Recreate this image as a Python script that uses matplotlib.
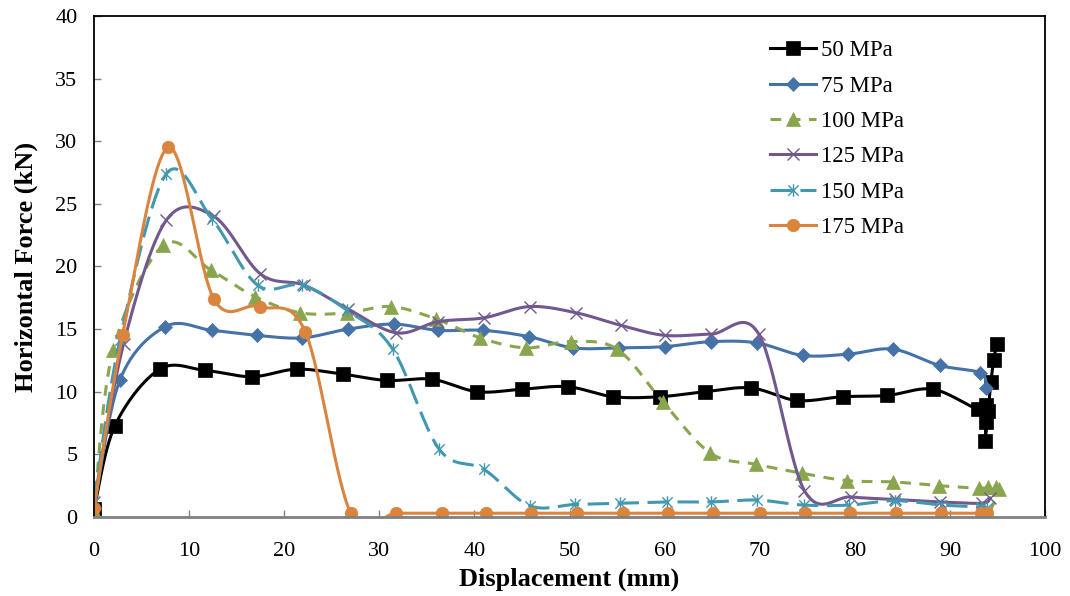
import numpy as np
import matplotlib
matplotlib.use('Agg')
import matplotlib.pyplot as plt
from matplotlib.path import Path
from matplotlib.lines import Line2D

plt.rcParams['font.family'] = ['Liberation Serif', 'DejaVu Serif']

# Data (displacement mm, force kN)
labels = ['50 MPa', '75 MPa', '100 MPa', '125 MPa', '150 MPa', '175 MPa']

x50 = [0, 2.2, 6.9, 11.7, 16.6, 21.3, 26.2, 30.8, 35.5, 40.3, 45.0, 49.8, 54.6, 59.5,
       64.2, 69.1, 73.9, 78.7, 83.4, 88.2, 92.9, 93.8, 93.8, 93.7, 94.0, 94.3, 94.6, 94.9]
y50 = [0.6, 7.3, 11.8, 11.7, 11.2, 11.8, 11.4, 10.9, 11.0, 10.0, 10.2, 10.4, 9.6, 9.6,
       10.0, 10.3, 9.3, 9.6, 9.7, 10.2, 8.6, 8.9, 7.6, 6.1, 8.5, 10.8, 12.5, 13.8]

x75 = [0, 2.7, 7.5, 12.4, 17.1, 21.9, 26.7, 31.5, 36.2, 40.9, 45.7, 50.4, 55.2, 60.0,
       64.9, 69.7, 74.5, 79.3, 84.0, 88.9, 93.2, 93.8]
y75 = [0.7, 10.9, 15.2, 14.9, 14.5, 14.3, 15.0, 15.4, 14.9, 14.9, 14.4, 13.5, 13.5, 13.6,
       14.0, 13.9, 12.9, 13.0, 13.4, 12.1, 11.5, 10.3]

x100 = [0, 2.0, 7.3, 12.3, 16.9, 21.7, 26.6, 31.2, 36.0, 40.6, 45.4, 50.1, 55.0, 59.8,
        64.8, 69.6, 74.4, 79.2, 84.0, 88.8, 93.1, 94.0, 94.8, 95.2, 94.0]
y100 = [0.5, 13.3, 21.7, 19.7, 17.6, 16.3, 16.3, 16.8, 15.8, 14.3, 13.5, 14.0, 13.4, 9.2,
        5.1, 4.2, 3.5, 2.9, 2.8, 2.5, 2.3, 2.4, 2.4, 2.2, 0.1]

x125 = [0, 3.1, 7.6, 12.6, 17.5, 22.1, 26.7, 31.8, 36.2, 41.0, 45.8, 50.7, 55.4, 60.0,
        64.9, 69.9, 74.7, 79.6, 84.2, 89.0, 93.4, 94.2]
y125 = [1.2, 13.8, 23.7, 24.0, 19.4, 18.5, 16.6, 14.7, 15.6, 15.9, 16.8, 16.3, 15.3, 14.5,
        14.6, 14.6, 2.1, 1.6, 1.4, 1.2, 1.1, 1.5]

x150 = [0, 2.7, 7.6, 12.4, 17.2, 21.9, 26.6, 31.4, 36.3, 41.0, 45.8, 50.6, 55.3, 60.2,
        64.9, 69.7, 74.6, 79.4, 84.2, 89.1, 93.3, 93.9]
y150 = [1.2, 14.1, 27.4, 23.8, 18.5, 18.5, 16.5, 13.4, 5.4, 3.8, 0.9, 1.0, 1.1, 1.2,
        1.2, 1.35, 0.95, 0.95, 1.3, 0.95, 0.8, 0.7]

x175 = [0, 3.0, 7.8, 12.6, 17.4, 22.2, 27.0, 31.8, 36.6, 41.2, 45.9, 50.8, 55.6, 60.4,
        65.1, 70.0, 74.8, 79.5, 84.3, 89.1, 93.3, 93.9]
y175 = [0.7, 14.5, 29.5, 17.4, 16.8, 14.8, 0.3, 0.3, 0.3, 0.3, 0.3, 0.3, 0.3, 0.3,
        0.3, 0.3, 0.3, 0.3, 0.3, 0.3, 0.3, 0.3]

series_x = [x50, x75, x100, x125, x150, x175]
series_y = [y50, y75, y100, y125, y150, y175]

colors = ['#000000', '#4572A7', '#89A54E', '#71588F', '#4198AF', '#DB843D']
styles = ['-', '-', (0, (3.5, 2.8)), '-', (0, (7, 2.8)), '-']

# excel-like "star": an x with a vertical bar through it
star = Path([(-1, -1), (1, 1), (-1, 1), (1, -1), (0, -1.2), (0, 1.2)],
            [Path.MOVETO, Path.LINETO] * 3)
markers = ['s', 'D', '^', 'x', star, 'o']
msizes = [9.5, 7.5, 10, 9, 9, 9]


def excel_smooth(xs, ys, n=30):
    # bezier smoothing the way excel does it (control points at 1/6 of neighbour chord)
    pts = np.column_stack([xs, ys]).astype(float)
    out = [pts[0]]
    t = np.linspace(0, 1, n + 1)[1:, None]
    for i in range(len(pts) - 1):
        p0 = pts[i - 1] if i > 0 else pts[i]
        p1 = pts[i]
        p2 = pts[i + 1]
        p3 = pts[i + 2] if i + 2 < len(pts) else pts[i + 1]
        c1 = p1 + (p2 - p0) / 6
        c2 = p2 - (p3 - p1) / 6
        seg = (1 - t) ** 3 * p1 + 3 * (1 - t) ** 2 * t * c1 + 3 * (1 - t) * t ** 2 * c2 + t ** 3 * p2
        out.extend(seg)
    return np.array(out)


fig = plt.figure(figsize=(10.7, 5.96), dpi=100)
ax = fig.add_axes([0.0879, 0.1326, 0.8888, 0.8406])

handles = []
for xs, ys, c, ls, m, ms, lab in zip(series_x, series_y, colors, styles, markers, msizes, labels):
    curve = excel_smooth(xs, ys)
    ax.plot(curve[:, 0], curve[:, 1], color=c, lw=2.2, ls=ls)
    unfilled = m in ('x',) or isinstance(m, Path)
    ax.plot(xs, ys, ls='none', marker=m, ms=ms, color=c,
            mec=c, mfc='none' if unfilled else c, mew=1.0 if unfilled else 0.5)
    handles.append(Line2D([], [], color=c, lw=2.2, ls=ls, marker=m, ms=ms, mec=c,
                          mfc='none' if unfilled else c, mew=1.0 if unfilled else 0.5))

ax.set_xlim(0, 100)
ax.set_ylim(0, 40)
ax.set_xticks(np.arange(0, 101, 10))
ax.set_yticks(np.arange(0, 41, 5))
ax.tick_params(axis='both', direction='in', length=5, width=1, color='#808080', labelsize=16)
ax.tick_params(axis='x', pad=18)
ax.tick_params(axis='y', pad=12)

for side in ['left', 'top', 'right']:
    ax.spines[side].set_color('#000000')
    ax.spines[side].set_linewidth(1.3)
ax.spines['bottom'].set_color('#808080')
ax.spines['bottom'].set_linewidth(2)

ax.set_xlabel('Displacement (mm)', fontsize=19, fontweight='bold', labelpad=5)
ax.set_ylabel('Horizontal Force (kN)', fontsize=19, fontweight='bold', labelpad=12)

ax.legend(handles, labels, loc='upper left', bbox_to_anchor=(0.711, 0.952), frameon=False,
          fontsize=16.5, handlelength=2.0, handletextpad=0.2, labelspacing=0.63,
          borderpad=0, borderaxespad=0, numpoints=1)

fig.savefig('out.png', dpi=100)
